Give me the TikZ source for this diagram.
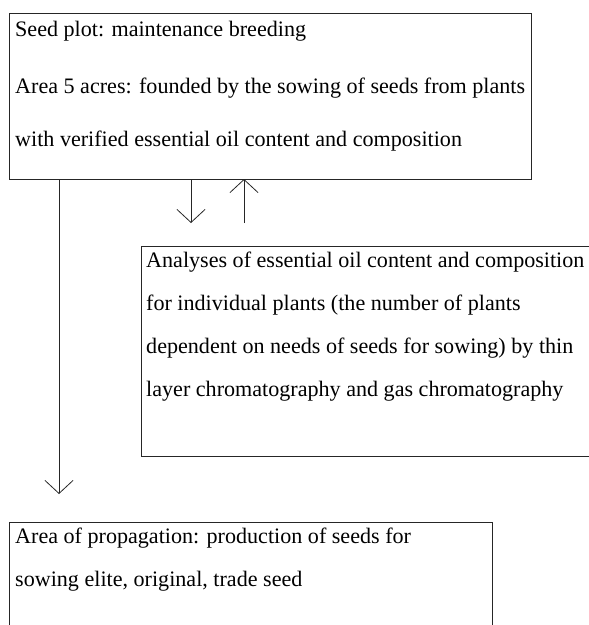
\documentclass[tikz,border=0pt]{standalone}
\usepackage{fontspec}
\setmainfont{Liberation Serif}
\usetikzlibrary{arrows.meta}
\begin{document}
\begin{tikzpicture}[x=1pt,y=-1pt,
  box/.style={draw=black!85, line width=0.8pt, inner sep=0pt, outer sep=0pt, anchor=north west},
  txt/.style={anchor=base west, inner sep=0pt, font=\fontsize{22.1}{26}\selectfont},
  arr/.style={draw=black!85, line width=0.8pt, -{Straight Barb[length=13pt,width=28pt,line width=0.8pt]}}]
\useasboundingbox (0,0) rectangle (589,625);
\clip (0,0) rectangle (589,625);
% boxes
\node[box, minimum width=522pt, minimum height=166pt] (seed) at (9,13) {};
\node[box, minimum width=480pt, minimum height=210pt] (anal) at (141,246) {};
\node[box, minimum width=483pt, minimum height=140pt] (prop) at (9,522) {};
% texts
\node[txt] (s1) at (15,36) {Seed plot: maintenance breeding};
\node[txt] (s2) at (15,93) {Area 5 acres: founded by the sowing of seeds from plants};
\node[txt] (s3) at (15,146) {with verified essential oil content and composition};
\node[txt] (a1) at (146,267) {Analyses of essential oil content and composition};
\node[txt] (a2) at (146,310) {for individual plants (the number of plants};
\node[txt] (a3) at (146,353) {dependent on needs of seeds for sowing) by thin};
\node[txt] (a4) at (146,396) {layer chromatography and gas chromatography};
\node[txt] (p1) at (15,543) {Area of propagation: production of seeds for};
\node[txt] (p2) at (15,586) {sowing elite, original, trade seed};
% arrows
\coordinate (longend) at (59,494);
\coordinate (downend) at (191,223);
\coordinate (upstart) at (244,223);
\draw[arr] (seed.south -| longend) -- (longend);
\draw[arr] (seed.south -| downend) -- (downend);
\draw[arr] (upstart) -- (upstart |- seed.south);
\end{tikzpicture}
\end{document}
